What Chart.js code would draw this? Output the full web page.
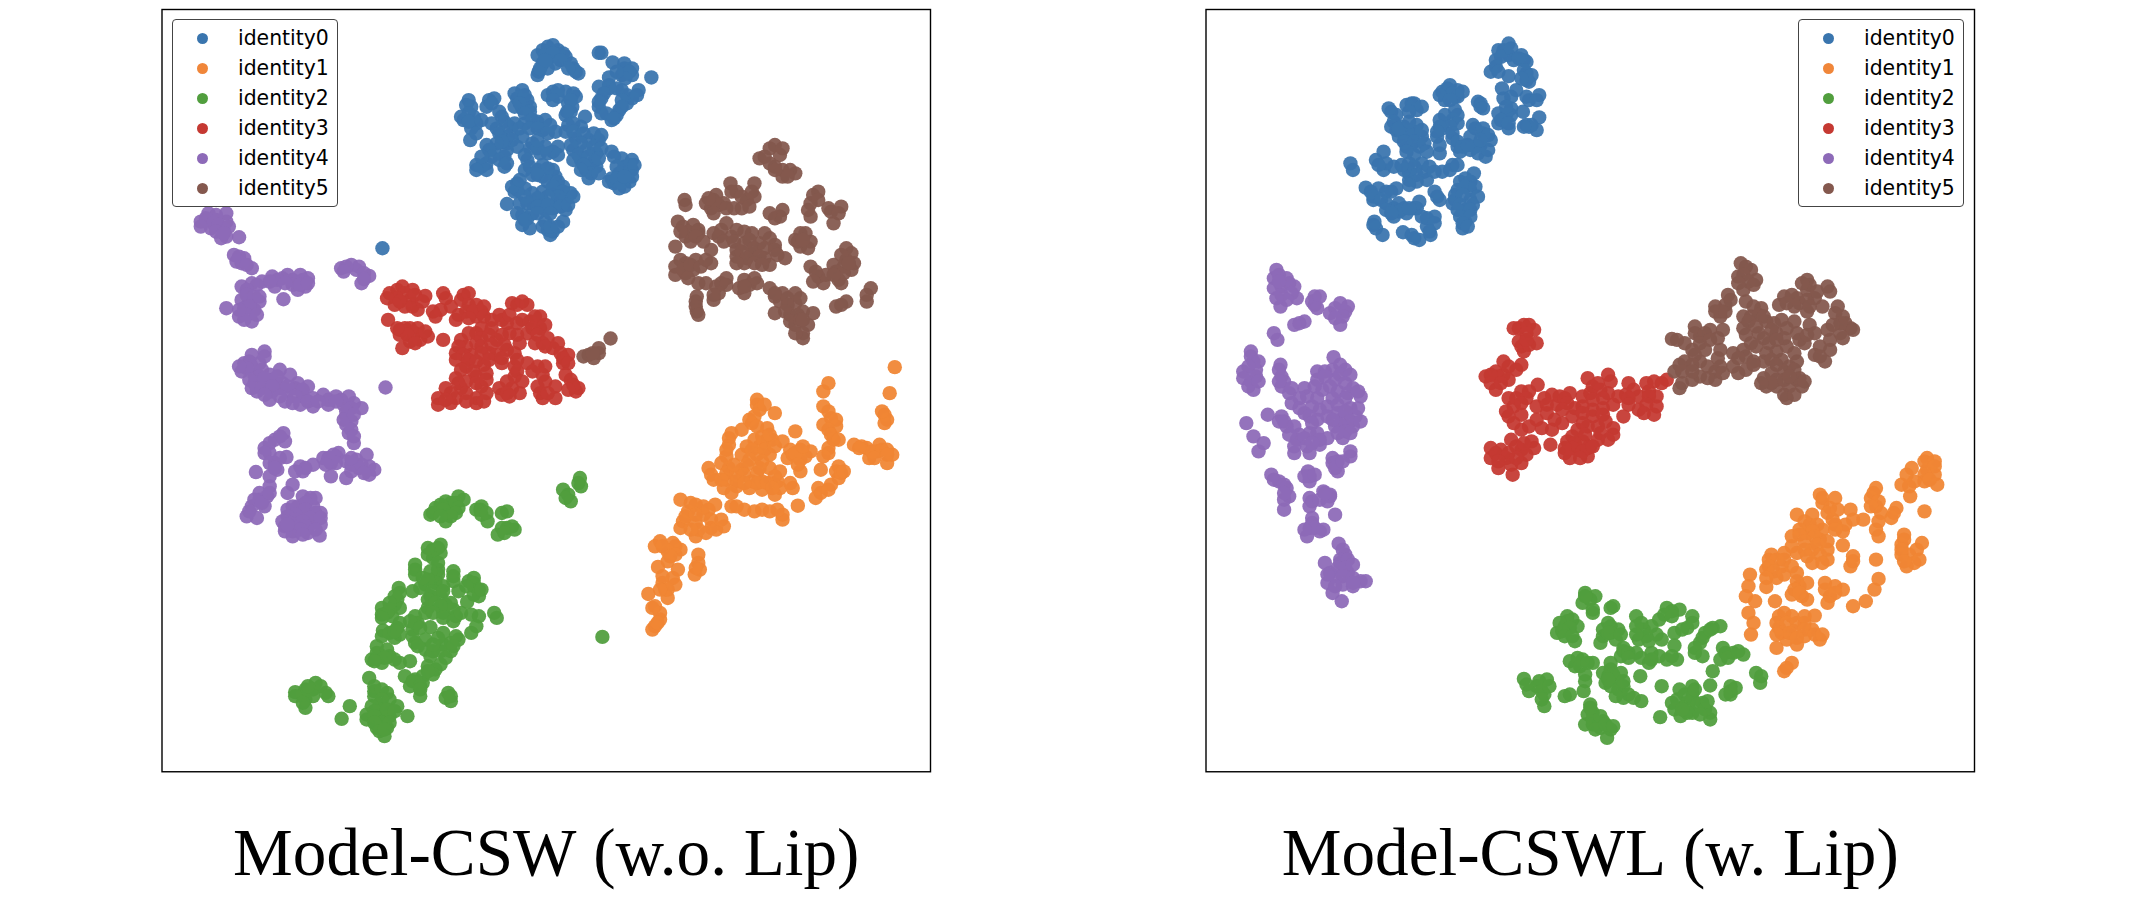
<!DOCTYPE html>
<html>
<head>
<meta charset="utf-8">
<title>Model-CSW vs Model-CSWL</title>
<script src="https://cdn.jsdelivr.net/npm/chart.js@4/dist/chart.umd.js"></script>
<style>
    html, body { margin: 0; padding: 0; background: #fff; width: 2136px; height: 902px; overflow: hidden; }
    canvas { position: absolute; top: 0; }
    #leftChart { left: 0; }
    #rightChart { left: 1068px; }
    .legend {
        position: absolute; top: 19px; width: 164px; height: 186px;
        border: 1px solid #444; border-radius: 4px; background: #fff;
        font: 20.4px "DejaVu Sans", sans-serif; color: #000;
    }
    .legend div { position: absolute; left: 65px; line-height: 30px; height: 30px; white-space: nowrap; }
    .legend i { position: absolute; left: -41px; top: 10px; width: 11px; height: 11px; border-radius: 50%; }
</style>
</head>
<body>
<canvas id="leftChart" width="1068" height="902"></canvas>
<canvas id="rightChart" width="1068" height="902"></canvas>
<div class="legend" id="leftLegend" style="left:172px"></div>
<div class="legend" id="rightLegend" style="left:1798px"></div>
<script>
const identities = ["identity0", "identity1", "identity2", "identity3", "identity4", "identity5"];
const colors = ["#3a75ae", "#f0863a", "#519e3e", "#c53932", "#8d6ab8", "#84584e"];
const fills = ["rgba(58,117,174,.94)", "rgba(240,134,52,.94)", "rgba(81,158,62,.94)", "rgba(197,57,50,.94)", "rgba(141,106,184,.94)", "rgba(132,88,78,.94)"];
const titles = ["Model-CSW (w.o. Lip)", "Model-CSWL (w. Lip)"];

// t-SNE values, arbitrary units
const csw0 = [[790,135],[770,150],[800,150],[760,165],[785,170],[815,170],[770,190],[795,190],[825,190],[762,215],[780,205],[830,205],[840,220],[760,225],[885,158],[880,158],[907,187],[930,205],[945,205],[925,225],[945,225],[900,232],[983,232],[880,260],[900,265],[925,270],[958,270],[945,295],[885,295],[880,320],[935,310],[885,340],[920,330],[905,360],[915,345],[900,255],[790,275],[815,275],[835,290],[820,310],[825,335],[815,345],[800,290],[853,350],[625,300],[630,320],[615,360],[635,350],[630,385],[628,420],[665,300],[675,295],[660,320],[730,270],[720,295],[740,300],[730,325],[745,320],[685,335],[695,365],[680,385],[690,410],[710,400],[700,430],[735,370],[760,365],[775,360],[770,390],[795,395],[730,410],[750,430],[775,440],[790,455],[800,440],[765,460],[735,465],[660,435],[675,450],[700,450],[695,470],[650,500],[640,495],[660,490],[695,500],[820,375],[845,380],[870,400],[835,415],[860,420],[880,420],[830,450],[855,450],[875,460],[845,480],[870,485],[855,510],[875,500],[860,535],[905,455],[925,475],[945,480],[930,500],[945,510],[920,520],[905,535],[925,545],[940,545],[930,560],[910,550],[735,510],[750,525],[770,495],[790,510],[770,530],[795,530],[720,550],[735,565],[715,575],[750,580],[770,575],[790,570],[810,560],[825,580],[815,600],[700,612],[725,610],[750,610],[770,605],[800,605],[790,625],[815,630],[730,645],[750,640],[775,630],[730,675],[745,685],[775,665],[810,665],[780,690],[790,695],[785,705],[456,745],
    [780,140],[810,160],[775,165],[790,160],[765,205],[775,180],[805,180],[835,215],[820,205],[930,190],[940,215],[932,235],[915,215],[890,280],[915,265],[935,285],[955,285],[925,300],[895,340],[880,305],[910,355],[925,320],[780,285],[800,270],[830,280],[828,320],[825,300],[818,335],[790,300],[620,315],[625,340],[610,350],[640,370],[625,365],[640,400],[650,360],[670,310],[715,280],[735,285],[725,310],[715,320],[745,335],[735,340],[690,350],[670,370],[685,400],[705,380],[715,370],[725,385],[750,360],[745,385],[760,385],[785,375],[780,400],[710,420],[720,440],[690,425],[680,430],[665,450],[670,470],[650,470],[685,480],[660,510],[640,510],[700,490],[745,445],[760,445],[740,480],[780,460],[800,465],[760,420],[830,370],[815,395],[830,395],[850,400],[885,405],[845,430],[870,440],[825,435],[840,465],[860,470],[885,445],[830,480],[880,475],[850,495],[865,520],[845,510],[880,520],[910,470],[940,495],[915,500],[950,495],[900,545],[915,535],[945,530],[920,565],[930,530],[745,500],[760,510],[780,505],[760,525],[780,545],[800,545],[790,560],[810,575],[830,590],[800,590],[780,590],[760,595],[735,590],[720,570],[710,560],[725,540],[740,610],[760,620],[780,615],[805,620],[820,615],[740,655],[760,640],[720,640],[785,640],[770,680],[785,680],[800,680],[735,660]];
const csw1 = [[1460,1102],[1330,1150],[1320,1175],[1450,1180],[1190,1200],[1190,1215],[1185,1250],[1180,1270],[1225,1240],[1320,1220],[1335,1255],[1320,1275],[1345,1280],[1340,1320],[1440,1245],[1440,1270],[1160,1290],[1135,1315],[1135,1335],[1130,1370],[1210,1285],[1200,1310],[1220,1320],[1195,1340],[1170,1340],[1160,1365],[1190,1365],[1215,1365],[1240,1325],[1265,1295],[1255,1350],[1275,1350],[1295,1355],[1250,1375],[1275,1380],[1275,1415],[1330,1360],[1315,1410],[1350,1400],[1350,1435],[1380,1335],[1405,1345],[1430,1335],[1455,1365],[1410,1375],[1445,1390],[1425,1355],[1095,1405],[1105,1440],[1135,1405],[1130,1440],[1160,1410],[1190,1420],[1215,1405],[1235,1415],[1230,1445],[1125,1465],[1150,1460],[1175,1465],[1200,1470],[1225,1485],[1260,1465],[1310,1465],[1335,1455],[1305,1495],[1270,1518],[1140,1520],[1165,1530],[1185,1535],[1215,1535],[1240,1545],[1240,1560],[1040,1500],[1070,1515],[1108,1515],[1055,1535],[1085,1545],[1045,1565],[1070,1570],[1100,1585],[1125,1580],[1040,1585],[1070,1610],[1000,1625],[1025,1630],[990,1640],[1015,1655],[1040,1650],[1015,1685],[1075,1665],[1075,1690],[1068,1725],[996,1702],[1035,1710],[1025,1735],[1005,1750],[1030,1755],[1015,1795],[977,1783],[990,1820],[1000,1840],[1000,1860],[985,1890],[990,1880],
    [1195,1230],[1205,1215],[1175,1260],[1190,1280],[1330,1235],[1345,1260],[1330,1290],[1335,1305],[1350,1320],[1445,1260],[1435,1235],[1130,1350],[1140,1300],[1205,1325],[1215,1305],[1185,1320],[1180,1350],[1205,1350],[1175,1380],[1200,1385],[1225,1340],[1260,1365],[1285,1370],[1265,1360],[1270,1395],[1280,1340],[1330,1345],[1320,1370],[1345,1415],[1355,1420],[1360,1415],[1395,1340],[1415,1355],[1435,1350],[1445,1350],[1420,1375],[1445,1365],[1390,1345],[1100,1425],[1120,1390],[1130,1420],[1120,1440],[1150,1425],[1145,1395],[1170,1395],[1165,1425],[1180,1445],[1150,1445],[1200,1445],[1195,1405],[1225,1430],[1235,1465],[1140,1480],[1190,1450],[1210,1450],[1220,1465],[1165,1450],[1255,1450],[1315,1480],[1330,1470],[1150,1520],[1200,1530],[1230,1530],[1060,1510],[1085,1520],[1050,1550],[1070,1545],[1095,1530],[1100,1560],[1075,1590],[1060,1590],[1090,1600],[1110,1590],[1120,1560],[1030,1640],[1005,1640],[1030,1665],[1020,1670],[1078,1710],[1070,1705],[1010,1770],[1005,1730],[1015,1770],[1000,1770],[985,1825],[995,1870]];
const csw2 = [[605,1490],[580,1505],[560,1525],[550,1545],[590,1535],[615,1500],[580,1565],[650,1520],[650,1545],[662,1565],[690,1540],[700,1535],[700,1585],[715,1590],[682,1605],[690,1585],[843,1435],[845,1460],[810,1470],[820,1485],[825,1505],[887,1912],[570,1635],[545,1665],[570,1660],[520,1695],[520,1725],[595,1715],[565,1710],[560,1735],[595,1745],[540,1755],[635,1735],[635,1760],[645,1790],[605,1775],[622,1807],[515,1775],[488,1765],[550,1790],[570,1790],[590,1810],[545,1825],[575,1840],[600,1850],[630,1845],[485,1800],[490,1825],[455,1825],[455,1845],[475,1850],[520,1850],[515,1890],[525,1870],[550,1883],[675,1840],[680,1855],[457,1893],[485,1885],[480,1915],[575,1900],[600,1910],[630,1900],[640,1880],[540,1920],[520,1930],[540,1950],[575,1935],[590,1955],[550,1970],[445,1940],[450,1965],[435,1980],[480,1980],[510,1985],[455,1990],[570,1995],[545,2000],[500,2030],[535,2030],[510,2060],[535,2050],[530,2090],[430,2035],[440,2060],[465,2080],[440,2090],[450,2115],[485,2120],[425,2160],[450,2150],[470,2150],[445,2185],[465,2185],[460,2210],[505,2150],[392,2120],[376,2158],[585,2080],[590,2105],[285,2078],[305,2070],[325,2050],[345,2080],[305,2100],[305,2125],
    [590,1510],[600,1510],[570,1515],[575,1530],[555,1540],[605,1525],[600,1540],[590,1550],[570,1550],[648,1530],[640,1530],[660,1540],[710,1580],[695,1600],[840,1450],[815,1495],[555,1650],[565,1645],[555,1675],[545,1645],[520,1710],[565,1690],[565,1725],[595,1730],[550,1715],[560,1750],[575,1760],[545,1740],[530,1765],[635,1750],[625,1745],[645,1770],[635,1785],[650,1770],[620,1760],[555,1775],[575,1775],[545,1800],[560,1810],[580,1815],[595,1830],[570,1820],[540,1840],[555,1840],[575,1855],[595,1865],[610,1840],[645,1850],[480,1815],[470,1830],[465,1840],[490,1780],[480,1790],[470,1810],[455,1855],[520,1870],[510,1865],[515,1910],[530,1885],[490,1905],[490,1870],[455,1910],[470,1900],[480,1895],[590,1930],[605,1920],[565,1915],[570,1955],[595,1940],[580,1975],[555,1955],[525,1940],[555,1935],[535,1735],[445,1960],[465,1950],[470,1970],[460,1975],[440,1985],[490,1990],[560,2010],[555,2025],[545,2015],[520,2040],[515,2045],[530,2060],[530,2070],[440,2075],[455,2070],[470,2100],[455,2100],[435,2120],[460,2130],[440,2135],[425,2145],[440,2150],[465,2130],[480,2135],[455,2170],[440,2170],[470,2170],[450,2195],[460,2190],[580,2095],[590,2090],[300,2085],[285,2090],[320,2070],[335,2060],[320,2090],[300,2110],[310,2060],[350,2090]];
const csw3 = [[495,860],[470,880],[515,870],[480,915],[510,900],[540,888],[525,930],[467,960],[575,880],[615,885],[555,935],[590,920],[640,915],[650,935],[600,960],[640,950],[710,910],[740,915],[500,985],[490,1005],[520,1000],[545,1010],[510,1025],[495,1045],[575,1020],[685,945],[700,970],[730,960],[765,950],[765,985],[640,1000],[670,985],[610,1020],[640,1030],[680,1020],[705,1000],[740,1000],[780,1015],[600,1060],[630,1065],[665,1060],[700,1050],[790,1045],[820,1065],[620,1100],[655,1095],[690,1090],[760,1100],[810,1090],[740,1090],[715,1100],[600,1135],[640,1130],[715,1130],[770,1125],[825,1140],[840,1165],[580,1165],[610,1165],[650,1160],[685,1165],[710,1165],[760,1160],[795,1160],[835,1175],[565,1195],[600,1195],[640,1195],[690,1185],[770,1195],[795,1195],[565,1215],[590,1210],[640,1210],
    [485,870],[500,880],[485,895],[465,895],[500,920],[490,905],[515,920],[520,885],[535,905],[580,895],[610,900],[625,880],[570,930],[560,950],[625,915],[620,935],[635,935],[655,920],[605,945],[625,955],[655,950],[720,915],[730,905],[490,990],[510,985],[525,985],[505,1005],[530,1020],[485,985],[540,995],[520,1030],[670,960],[690,960],[705,945],[720,970],[745,965],[755,950],[775,975],[750,985],[650,985],[625,1000],[650,1015],[665,1005],[690,1005],[720,1005],[760,1005],[770,1030],[620,1040],[650,1040],[670,1035],[695,1035],[725,1030],[755,1030],[775,1040],[800,1030],[605,1040],[615,1065],[650,1060],[680,1065],[715,1060],[805,1060],[810,1075],[600,1080],[625,1080],[640,1085],[665,1080],[690,1075],[720,1080],[820,1090],[610,1110],[635,1115],[660,1120],[720,1115],[750,1115],[775,1100],[605,1150],[620,1145],[640,1150],[660,1140],[700,1145],[730,1145],[775,1145],[815,1125],[830,1155],[590,1180],[620,1180],[660,1180],[700,1180],[725,1180],[765,1180],[780,1180],[580,1200],[620,1205],[655,1205],[705,1190],[820,1170]];
const csw4 = [[115,640],[150,640],[100,665],[130,660],[150,665],[120,685],[145,690],[140,715],[175,712],[150,710],[175,770],[170,785],[185,775],[200,805],[240,830],[270,825],[295,825],[310,835],[305,860],[290,870],[245,860],[220,845],[180,860],[200,850],[260,835],[180,900],[195,905],[215,905],[185,925],[205,930],[175,950],[200,965],[150,925],[262,898],[375,805],[395,795],[405,810],[430,828],[415,850],[410,800],[225,1055],[200,1065],[185,1090],[215,1090],[180,1115],[205,1125],[235,1125],[255,1110],[205,1150],[230,1150],[275,1125],[260,1150],[290,1150],[310,1160],[210,1175],[240,1175],[270,1175],[300,1190],[340,1185],[365,1190],[390,1190],[462,1163],[235,1200],[265,1205],[295,1215],[320,1220],[350,1215],[380,1215],[415,1225],[385,1250],[385,1275],[390,1300],[400,1330],[262,1300],[245,1320],[225,1345],[265,1325],[235,1360],[268,1372],[245,1390],[250,1410],[208,1417],[235,1430],[295,1400],[300,1415],[320,1395],[350,1375],[370,1360],[355,1390],[365,1370],[350,1380],[385,1385],[405,1380],[425,1365],[430,1400],[430,1425],[410,1405],[385,1435],[355,1430],[280,1455],[270,1480],[235,1460],[215,1480],[200,1520],[230,1490],[190,1550],[210,1555],[225,1520],[315,1495],[290,1520],[320,1520],[270,1530],[335,1540],[300,1545],[265,1580],[290,1575],[320,1570],[280,1595],[310,1600],[335,1575],[333,1608],
    [130,645],[110,655],[125,670],[135,675],[100,680],[155,680],[130,695],[145,700],[180,790],[165,765],[190,795],[250,840],[280,840],[300,840],[280,855],[295,855],[310,850],[235,845],[210,855],[190,870],[265,850],[190,885],[205,890],[195,920],[215,890],[190,945],[185,960],[210,945],[175,930],[385,800],[420,820],[380,815],[420,838],[225,1070],[195,1085],[200,1100],[220,1110],[190,1105],[175,1100],[215,1130],[195,1140],[240,1140],[225,1135],[250,1130],[200,1165],[220,1165],[255,1165],[285,1165],[240,1160],[270,1160],[300,1170],[225,1185],[255,1190],[285,1190],[320,1195],[350,1200],[375,1200],[400,1210],[280,1210],[310,1205],[330,1205],[365,1205],[395,1225],[385,1235],[395,1265],[380,1260],[395,1290],[400,1245],[400,1310],[255,1310],[235,1330],[225,1360],[235,1390],[255,1375],[245,1405],[305,1405],[340,1375],[360,1365],[365,1390],[345,1395],[395,1395],[395,1415],[415,1395],[440,1410],[420,1420],[395,1375],[285,1415],[215,1500],[205,1500],[195,1535],[220,1510],[235,1480],[300,1490],[325,1495],[305,1510],[280,1520],[305,1530],[325,1540],[285,1545],[270,1550],[315,1555],[285,1560],[300,1565],[335,1555],[275,1570],[260,1565],[305,1580],[265,1595],[295,1590],[325,1590],[280,1610],[300,1605],[270,1575]];
const csw5 = [[1225,435],[1195,475],[1235,465],[1215,490],[1240,510],[1265,520],[1240,530],[1138,550],[1150,575],[1170,600],[1185,550],[1185,590],[1160,625],[1048,600],[1050,615],[1105,600],[1100,625],[1125,610],[1300,585],[1295,610],[1295,650],[1355,620],[1335,635],[1340,670],[1240,630],[1225,655],[1035,665],[1065,675],[1050,710],[1075,700],[1060,725],[1030,740],[1105,700],[1130,670],[1100,750],[1165,695],[1140,710],[1205,700],[1165,730],[1195,730],[1225,735],[1180,760],[1150,770],[1205,775],[1245,775],[1165,790],[1215,795],[1275,700],[1295,725],[1275,740],[1365,745],[1365,780],[1340,795],[1375,810],[1295,800],[1310,830],[1350,840],[1320,850],[1355,850],[1040,780],[1070,780],[1030,825],[1050,820],[1065,810],[1100,790],[1075,850],[1110,860],[1130,835],[1105,900],[1165,840],[1190,850],[1165,880],[1215,865],[1240,880],[1265,880],[1235,905],[1265,910],[1280,935],[1255,945],[1300,940],[1225,940],[1265,975],[1280,1000],[1280,1015],[1072,890],[1072,935],[1413,865],[1405,905],[1365,905],[1345,920],[850,1070],[880,1060],[880,1045],[903,1016],[870,1075],
    [1215,445],[1205,470],[1240,445],[1225,500],[1255,510],[1250,530],[1225,510],[1140,575],[1160,590],[1180,575],[1175,620],[1145,625],[1110,585],[1090,610],[1115,615],[1130,625],[1105,640],[1095,595],[1310,575],[1290,630],[1310,600],[1330,625],[1350,640],[1235,650],[1215,640],[1045,680],[1055,695],[1075,690],[1040,695],[1070,710],[1085,725],[1120,690],[1115,710],[1125,725],[1150,690],[1180,700],[1145,725],[1150,750],[1175,720],[1215,715],[1185,745],[1205,745],[1160,755],[1225,750],[1195,770],[1170,775],[1230,765],[1150,790],[1185,790],[1200,795],[1265,720],[1285,700],[1290,745],[1270,725],[1280,720],[1375,760],[1355,765],[1380,790],[1360,800],[1345,815],[1325,825],[1305,815],[1360,820],[1300,845],[1340,825],[1370,790],[1050,790],[1030,800],[1045,810],[1060,795],[1080,800],[1090,780],[1055,835],[1090,850],[1120,850],[1130,855],[1115,880],[1105,885],[1175,855],[1155,865],[1185,835],[1165,860],[1225,890],[1250,895],[1250,915],[1225,880],[1275,895],[1245,935],[1270,945],[1255,965],[1275,960],[1265,1000],[1290,975],[1280,960],[1070,905],[1070,920],[1075,945],[1355,915],[1405,885],[860,1065],[868,1060]];

const cswl0 = [[625,130],[605,150],[600,180],[625,165],[650,165],[660,185],[590,215],[625,228],[660,220],[665,245],[612,265],[615,295],[640,270],[685,285],[665,300],[630,325],[605,340],[605,370],[625,385],[630,345],[653,335],[685,352],[660,375],[680,390],[510,255],[495,275],[525,270],[520,290],[500,300],[565,305],[570,320],[435,310],[445,330],[390,325],[405,345],[395,380],[420,380],[445,375],[410,410],[435,410],[455,410],[425,440],[450,440],[440,465],[490,460],[520,330],[490,360],[515,360],[495,385],[555,375],[485,410],[515,415],[525,440],[550,450],[575,400],[590,420],[570,435],[580,470],[550,410],[315,490],[320,510],[380,455],[365,480],[380,510],[400,500],[430,490],[455,490],[430,520],[460,515],[430,540],[465,540],[515,495],[495,515],[557,520],[345,563],[370,565],[405,565],[360,600],[385,610],[480,575],[490,600],[540,535],[525,570],[550,570],[520,600],[550,600],[540,630],[400,625],[400,650],[425,640],[450,605],[440,625],[480,650],[465,680],[540,665],[535,685],[362,665],[365,685],[378,705],[418,697],[435,705],[450,720],[472,705],
    [615,150],[610,170],[630,145],[635,180],[600,200],[655,180],[645,175],[605,215],[660,240],[655,210],[670,225],[650,235],[630,290],[660,290],[680,300],[620,345],[610,360],[620,320],[625,370],[665,380],[670,375],[655,380],[505,265],[515,280],[525,290],[490,285],[535,275],[510,300],[570,310],[575,325],[425,315],[440,310],[455,320],[430,335],[395,335],[400,365],[405,390],[415,395],[425,395],[440,395],[455,390],[420,425],[440,425],[460,430],[425,455],[465,455],[410,385],[430,365],[500,345],[525,345],[525,370],[510,380],[490,380],[485,395],[515,400],[525,425],[535,440],[560,385],[575,385],[585,405],[560,440],[565,460],[585,450],[530,455],[545,435],[570,420],[490,435],[420,510],[440,500],[445,525],[470,500],[415,495],[445,545],[430,555],[480,515],[510,510],[525,495],[385,490],[370,495],[355,575],[385,575],[360,590],[375,600],[395,575],[385,630],[410,610],[420,625],[445,625],[485,590],[530,545],[550,545],[540,560],[560,560],[520,585],[535,585],[565,590],[515,610],[530,615],[555,615],[525,630],[550,630],[530,650],[550,650],[535,670],[545,680],[410,635],[395,640],[430,625],[455,650],[465,655],[480,670],[470,695],[360,675],[440,715]];
const cswl1 = [[1445,1375],[1445,1410],[1415,1405],[1460,1425],[1465,1455],[1395,1455],[1440,1445],[1412,1490],[1440,1535],[1345,1465],[1335,1495],[1385,1525],[1375,1555],[1345,1520],[1350,1565],[1350,1610],[1235,1485],[1265,1495],[1240,1510],[1295,1530],[1260,1560],[1285,1575],[1320,1560],[1280,1595],[1190,1545],[1220,1545],[1215,1575],[1240,1590],[1180,1610],[1210,1600],[1235,1620],[1165,1660],[1190,1660],[1220,1650],[1250,1650],[1250,1680],[1220,1690],[1280,1637],[1300,1670],[1295,1700],[1400,1605],[1395,1635],[1435,1630],[1395,1665],[1420,1690],[1405,1700],[1345,1680],[1135,1680],[1130,1710],[1160,1700],[1150,1735],[1190,1720],[1130,1762],[1195,1760],[1180,1785],[1210,1800],[1147,1805],[1098,1725],[1095,1760],[1090,1790],[1108,1805],[1095,1840],[1105,1870],[1100,1905],[1245,1750],[1265,1760],[1255,1790],[1280,1770],[1350,1738],[1342,1770],[1325,1805],[1300,1820],[1155,1850],[1180,1850],[1225,1848],[1155,1885],[1205,1870],[1170,1920],[1205,1910],[1235,1920],[1150,1945],[1190,1935],[1180,1990],[1165,2015],
    [1440,1385],[1460,1385],[1460,1400],[1440,1425],[1450,1440],[1410,1460],[1420,1445],[1405,1425],[1340,1480],[1350,1505],[1335,1520],[1355,1540],[1380,1540],[1345,1590],[1240,1495],[1255,1525],[1250,1540],[1270,1530],[1265,1575],[1265,1590],[1300,1560],[1205,1565],[1195,1590],[1230,1575],[1220,1595],[1225,1610],[1195,1605],[1180,1640],[1205,1625],[1230,1635],[1250,1625],[1205,1650],[1235,1665],[1210,1670],[1240,1690],[1300,1685],[1400,1620],[1425,1650],[1410,1665],[1395,1650],[1430,1680],[1400,1685],[1140,1665],[1150,1680],[1135,1700],[1165,1680],[1145,1715],[1165,1725],[1180,1700],[1130,1735],[1190,1745],[1210,1750],[1185,1770],[1200,1790],[1195,1780],[1245,1770],[1265,1780],[1250,1810],[1165,1840],[1150,1870],[1170,1870],[1190,1870],[1205,1850],[1220,1890],[1185,1895],[1160,1900],[1175,1900],[1205,1890],[1225,1905],[1240,1905],[1190,1915],[1150,1905],[1170,2005]];
const cswl2 = [[775,1780],[795,1790],[770,1810],[830,1820],[790,1840],[740,1850],[735,1880],[720,1900],[755,1925],[760,1880],[820,1870],[840,1890],[810,1910],[835,1920],[875,1850],[890,1890],[905,1880],[880,1920],[925,1920],[935,1825],[960,1830],[920,1860],[985,1850],[975,1885],[950,1900],[1040,1880],[1010,1900],[1000,1930],[990,1960],[950,1938],[850,1945],[845,1970],[875,1960],[905,1960],[935,1980],[955,1980],[900,1990],[1045,1945],[1065,1960],[1085,1965],[1040,1980],[760,1975],[790,1990],[755,2000],[775,2045],[825,1990],[820,2030],[845,2020],[815,2050],[850,2060],[850,2095],[885,2105],[883,2030],[655,2038],[700,2040],[680,2060],[665,2075],[695,2085],[695,2120],[745,2085],[772,2075],[1025,2015],[1110,2020],[1118,2050],[1060,2060],[1060,2085],[1020,2058],[985,2060],[960,2070],[985,2080],[955,2100],[985,2100],[1005,2110],[950,2130],[985,2140],[1020,2140],[1020,2160],[962,2150],[922,2153],[925,2060],[785,2115],[780,2145],[775,2175],[810,2165],[825,2190],[805,2185],[818,2215],
    [785,1800],[775,1790],[790,1830],[825,1825],[740,1865],[750,1860],[725,1870],[745,1885],[730,1895],[735,1910],[750,1910],[810,1890],[825,1880],[825,1900],[805,1930],[820,1900],[845,1905],[885,1870],[875,1880],[895,1910],[915,1905],[900,1925],[875,1905],[945,1835],[930,1845],[945,1850],[985,1870],[965,1890],[1025,1885],[1005,1915],[1020,1890],[990,1945],[1005,1970],[850,1955],[860,1960],[860,1975],[885,1975],[920,1970],[905,1980],[945,1970],[1050,1960],[1055,1975],[1075,1955],[770,1980],[745,1985],[765,2000],[775,2025],[780,1990],[825,2010],[835,2040],[810,2020],[830,2025],[825,2060],[840,2070],[860,2085],[870,2095],[835,2090],[850,2045],[820,2040],[685,2045],[690,2075],[705,2060],[690,2100],[660,2055],[735,2090],[1120,2030],[1060,2075],[1070,2065],[1050,2085],[970,2085],[990,2070],[975,2110],[965,2125],[995,2115],[945,2110],[1010,2130],[975,2140],[1000,2145],[965,2130],[1015,2105],[790,2140],[790,2160],[790,2175],[805,2150],[795,2190],[815,2175],[830,2180],[785,2125]];
const cswl3 = [[645,985],[665,975],[675,990],[645,1025],[680,1030],[655,1055],[650,1095],[615,1085],[600,1115],[580,1130],[615,1125],[600,1170],[682,1155],[650,1175],[625,1195],[710,1185],[745,1180],[780,1135],[820,1125],[805,1170],[860,1150],[840,1190],[910,1145],[925,1150],[880,1190],[915,1190],[770,1190],[635,1220],[680,1220],[720,1215],[770,1220],[810,1225],[880,1230],[915,1220],[910,1245],[850,1250],[635,1270],[680,1260],[715,1260],[750,1250],[790,1250],[710,1290],[760,1290],[800,1280],[830,1305],[650,1290],[630,1320],[590,1345],[610,1350],[650,1350],[675,1345],[590,1375],[620,1375],[650,1390],[605,1405],[633,1425],[707,1335],[740,1325],[770,1325],[800,1320],[735,1360],[780,1370],[760,1350],
    [655,975],[635,985],[660,1000],[650,1040],[665,1035],[660,1020],[640,1110],[625,1100],[605,1130],[590,1125],[625,1140],[590,1150],[610,1150],[665,1175],[640,1195],[660,1195],[695,1195],[725,1190],[790,1160],[785,1180],[800,1150],[825,1145],[820,1180],[870,1170],[855,1185],[895,1150],[900,1175],[935,1140],[900,1190],[860,1195],[790,1200],[810,1195],[735,1195],[650,1210],[700,1215],[740,1210],[755,1225],[790,1230],[830,1215],[860,1215],[895,1215],[890,1240],[620,1235],[650,1245],[700,1240],[730,1230],[770,1240],[810,1245],[625,1250],[665,1280],[690,1285],[730,1270],[770,1270],[780,1280],[815,1265],[830,1285],[750,1310],[775,1305],[755,1330],[785,1340],[805,1300],[820,1320],[600,1360],[625,1360],[640,1340],[660,1365],[670,1325],[605,1385],[630,1395],[640,1375],[655,1330],[750,1345],[780,1345],[735,1345],[745,1375],[770,1355],[790,1340],[765,1375]];
const cswl4 = [[170,810],[165,835],[190,835],[165,865],[205,860],[210,895],[180,885],[178,920],[245,890],[245,915],[295,910],[305,935],[275,940],[295,975],[215,970],[165,1000],[172,1020],[120,1055],[125,1085],[105,1115],[130,1110],[120,1145],[125,1170],[178,1095],[180,1130],[180,1160],[195,1180],[282,1072],[250,1115],[280,1110],[305,1110],[285,1140],[250,1140],[225,1165],[260,1170],[290,1175],[320,1165],[335,1190],[230,1190],[200,1210],[240,1220],[270,1220],[315,1225],[153,1245],[111,1270],[180,1250],[190,1280],[225,1240],[250,1260],[300,1255],[325,1250],[285,1280],[320,1280],[210,1320],[235,1300],[270,1315],[300,1315],[125,1310],[145,1330],[135,1355],[205,1360],[235,1360],[255,1335],[315,1370],[280,1390],[290,1415],[232,1415],[235,1445],[160,1425],[175,1445],[190,1465],[185,1500],[185,1530],[262,1475],[235,1495],[235,1520],[270,1505],[285,1545],[240,1555],[235,1585],[255,1595],[230,1610],[292,1632],[305,1665],[295,1690],[265,1690],[275,1720],[310,1720],[335,1745],[270,1750],[300,1755],[280,1780],[298,1805],[320,1760],
    [175,825],[180,860],[195,850],[175,845],[200,880],[190,900],[170,895],[240,905],[255,890],[250,925],[285,925],[310,920],[300,950],[285,955],[225,965],[205,975],[120,1070],[135,1085],[115,1100],[130,1130],[105,1135],[115,1160],[135,1145],[175,1110],[185,1145],[175,1145],[200,1165],[295,1095],[265,1115],[295,1125],[265,1130],[315,1125],[305,1150],[245,1160],[275,1160],[310,1180],[330,1175],[280,1195],[305,1195],[215,1195],[250,1195],[215,1225],[255,1230],[290,1215],[330,1225],[175,1265],[185,1265],[205,1280],[235,1250],[240,1270],[270,1250],[290,1240],[305,1235],[315,1265],[295,1275],[335,1265],[280,1260],[215,1305],[195,1305],[225,1315],[250,1300],[290,1300],[305,1295],[315,1300],[255,1320],[205,1340],[230,1340],[240,1330],[280,1375],[290,1385],[285,1405],[300,1385],[315,1355],[235,1430],[225,1430],[245,1425],[165,1440],[185,1455],[195,1490],[185,1480],[275,1485],[240,1505],[255,1500],[275,1490],[265,1480],[240,1570],[245,1585],[225,1590],[262,1590],[300,1650],[295,1680],[310,1680],[290,1705],[305,1705],[320,1695],[285,1730],[300,1730],[320,1735],[345,1745],[285,1760],[270,1725],[320,1750]];
const cswl5 = [[1080,790],[1100,810],[1075,830],[1110,840],[1085,870],[1055,885],[1030,920],[1050,915],[1040,950],[945,1017],[970,1030],[990,980],[1000,1010],[1020,990],[1045,990],[985,1050],[1010,1050],[970,1085],[1000,1085],[950,1115],[1030,1115],[1000,1130],[965,1150],[985,1140],[1040,1050],[1210,840],[1250,860],[1210,870],[1165,890],[1190,895],[1155,915],[1225,895],[1240,920],[1185,920],[1210,935],[1270,920],[1280,950],[1295,985],[1250,990],[1275,1000],[1090,905],[1120,925],[1100,950],[1085,985],[1130,965],[1160,960],[1185,965],[1115,1000],[1150,1000],[1190,1000],[1100,1030],[1135,1030],[1170,1040],[1215,975],[1205,1030],[1225,1065],[1245,1085],[1255,1050],[1065,1060],[1090,1070],[1130,1060],[1065,1100],[1090,1110],[1125,1085],[1160,1080],[1190,1085],[1165,1115],[1190,1140],[1125,1135],[1150,1140],[1175,1160],[1130,1160],[1200,1160],[1165,1185],[1170,1195],
    [1090,800],[1085,825],[1095,845],[1105,855],[1075,850],[1040,935],[1030,935],[1050,935],[1060,900],[955,1020],[990,1000],[1010,1000],[1035,1015],[1000,1030],[1020,1020],[990,1065],[1035,1075],[985,1095],[1015,1100],[960,1095],[965,1115],[985,1115],[1040,1100],[1030,1140],[1015,1135],[960,1165],[1045,1120],[1215,855],[1200,850],[1180,885],[1170,910],[1195,910],[1210,900],[1230,875],[1255,875],[1215,920],[1265,940],[1285,970],[1275,970],[1300,990],[1260,975],[1255,1020],[1235,1040],[1280,1015],[1105,920],[1115,945],[1085,950],[1125,950],[1145,970],[1095,965],[1110,980],[1140,990],[1170,985],[1090,1005],[1125,1015],[1165,1015],[1195,1020],[1110,1040],[1085,1050],[1150,1020],[1150,1055],[1185,1060],[1225,1000],[1210,1005],[1235,1070],[1075,1075],[1105,1085],[1140,1080],[1150,1095],[1175,1100],[1075,1120],[1105,1095],[1140,1120],[1185,1110],[1150,1160],[1185,1185],[1140,1150],[1195,1135],[1205,1145],[1120,1150],[1165,1140],[1175,1130]];

const cswSeries = [csw0, csw1, csw2, csw3, csw4, csw5];
const cswlSeries = [cswl0, cswl1, cswl2, cswl3, cswl4, cswl5];

// 프레임 (네 변 모두)
const framePlugin = {
    id: "frame",
    afterDraw: function (chart) {
        const a = chart.chartArea, ctx = chart.ctx;
        ctx.save();
        ctx.strokeStyle = "#000";
        ctx.lineWidth = 1.4;
        ctx.strokeRect(a.left, a.top, a.right - a.left, a.bottom - a.top);
        ctx.restore();
    }
};

function makeChart(id, series, title, xMin, xMax, padding) {
    return new Chart(document.getElementById(id).getContext("2d"), {
        type: "scatter",
        data: {
            datasets: series.map(function (pts, i) {
                return {
                    label: identities[i],
                    data: pts.map(function (p) { return { x: p[0], y: p[1] }; }),
                    backgroundColor: fills[i],
                    borderWidth: 0,
                    pointRadius: 7.2,
                    order: 5 - i
                };
            })
        },
        options: {
            responsive: false,
            animation: false,
            layout: { padding: padding },
            scales: {
                x: { display: false, min: xMin, max: xMax },
                y: { display: false, min: 28, max: 2317, reverse: true }
            },
            plugins: {
                legend: { display: false },
                tooltip: { enabled: false },
                title: {
                    display: true,
                    position: "bottom",
                    text: title,
                    color: "#000",
                    font: { family: "'Liberation Serif', serif", size: 67.2, weight: "normal", lineHeight: 1.2 },
                    padding: { top: 45.6, bottom: 4 }
                }
            }
        },
        plugins: [framePlugin]
    });
}

function fillLegend(id) {
    const box = document.getElementById(id);
    identities.forEach(function (name, i) {
        const row = document.createElement("div");
        row.style.top = (3 + i * 30) + "px";
        row.textContent = name;
        const dot = document.createElement("i");
        dot.style.background = colors[i];
        row.appendChild(dot);
        box.appendChild(row);
    });
}

makeChart("leftChart", cswSeries, titles[0], 24, 1530, { left: 162, right: 137.5, top: 9.5, bottom: 0 });
makeChart("rightChart", cswlSeries, titles[1], 32, 1538, { left: 138, right: 161.5, top: 9.5, bottom: 0 });
fillLegend("leftLegend");
fillLegend("rightLegend");
</script>
</body>
</html>
